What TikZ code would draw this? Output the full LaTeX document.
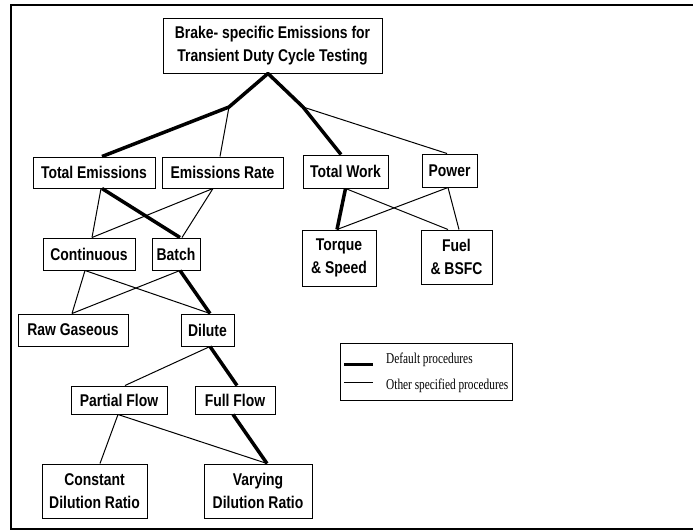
\documentclass[tikz,border=0pt]{standalone}
\usepackage{fontspec}
\newfontfamily\cajafont{Liberation Sans}[FakeStretch=0.82,BoldFeatures={FakeStretch=0.82}]
\newfontfamily\leyfont{Liberation Serif}[FakeStretch=0.755]
\usepackage{tikz}

\begin{document}
\begin{tikzpicture}[x=1pt,y=-1pt,
  caja/.style={draw,line width=1pt,inner sep=0pt,align=center,
    font=\cajafont\bfseries\fontsize{17}{23}\selectfont},
  fino/.style={line width=1pt},
  grueso/.style={line width=3.5pt,line join=round}]
            \useasboundingbox (0,0) rectangle (693,531);
            \draw[line width=1.8pt] (693,5) -- (11,5) -- (11,529) -- (693,529); % marco
            % cajas
            \node[caja,minimum width=219pt,minimum height=55pt] (bse) at (272.5,45.5) {Brake- specific Emissions for\\Transient Duty Cycle Testing};
            \node[caja,minimum width=122pt,minimum height=31pt] (te) at (94,172.5) {Total Emissions};
            \node[caja,minimum width=121pt,minimum height=31pt] (er) at (222.5,172.5) {Emissions Rate};
            \node[caja,minimum width=85pt,minimum height=33pt] (tw) at (345.5,171.5) {Total Work};
            \node[caja,minimum width=55pt,minimum height=33pt] (pw) at (449.5,170.5) {Power};
            \node[caja,minimum width=92pt,minimum height=32pt] (cont) at (89,254) {Continuous};
            \node[caja,minimum width=48pt,minimum height=32pt] (batch) at (176,254) {Batch};
            \node[caja,minimum width=74pt,minimum height=56pt] (ts) at (339,258) {Torque\\\& Speed};
            \node[caja,minimum width=71pt,minimum height=54pt] (fb) at (456.5,257) {Fuel\\\& BSFC};
            \node[caja,minimum width=110pt,minimum height=32pt] (raw) at (73,330) {Raw Gaseous};
            \node[caja,minimum width=53pt,minimum height=32pt] (dil) at (207.5,330) {Dilute};
            \node[caja,minimum width=96pt,minimum height=28pt] (pf) at (119,400) {Partial Flow};
            \node[caja,minimum width=80pt,minimum height=28pt] (ff) at (235,400) {Full Flow};
            \node[caja,minimum width=105pt,minimum height=54pt] (cdr) at (94.5,491) {Constant\\Dilution Ratio};
            \node[caja,minimum width=108pt,minimum height=54pt] (vdr) at (258,491) {Varying\\Dilution Ratio};
            % nivel 1
            \coordinate (j1) at (229,107);
            \coordinate (j2) at (303,107);
            \draw[grueso] ([xshift=8pt]te.north) -- (j1) -- ([xshift=-4.5pt]bse.south) -- (j2) -- ([xshift=-4.5pt]tw.north);
            \draw[fino] (j1) -- ([xshift=-2.5pt]er.north);
            \draw[fino] (j2) -- ([xshift=-2.5pt]pw.north);
            % nivel 2
            \draw[fino] ([xshift=7pt]te.south) -- ([xshift=3pt]cont.north);
            \draw[grueso] ([xshift=8pt]te.south) -- ([xshift=4pt]batch.north);
            \draw[fino] ([xshift=-9.5pt]er.south) -- ([xshift=3pt]cont.north);
            \draw[fino] ([xshift=-9.5pt]er.south) -- ([xshift=6pt]batch.north);
            \draw[grueso] (tw.south) -- ([xshift=-2pt]ts.north);
            \draw[fino] (tw.south) -- ([xshift=-8.5pt]fb.north);
            \draw[fino] ([xshift=-1.5pt]pw.south) -- ([xshift=-2pt]ts.north);
            \draw[fino] ([xshift=-1.5pt]pw.south) -- ([xshift=2.5pt]fb.north);
            % nivel 3
            \draw[fino] ([xshift=-4pt]cont.south) -- ([xshift=-1pt]raw.north);
            \draw[fino] ([xshift=-4pt]cont.south) -- ([xshift=2.5pt]dil.north);
            \draw[fino] ([xshift=4pt]batch.south) -- ([xshift=-1pt]raw.north);
            \draw[grueso] ([xshift=4pt]batch.south) -- ([xshift=2.5pt]dil.north);
            % nivel 4
            \draw[fino] ([xshift=2.5pt]dil.south) -- ([xshift=6pt]pf.north);
            \draw[grueso] ([xshift=2.5pt]dil.south) -- ([xshift=2pt]ff.north);
            % nivel 5
            \draw[fino] ([xshift=-1pt]pf.south) -- ([xshift=5.5pt]cdr.north);
            \draw[fino] ([xshift=-1pt]pf.south) -- ([xshift=9pt]vdr.north);
            \draw[grueso] ([xshift=-2pt]ff.south) -- ([xshift=9pt]vdr.north);
            % leyenda
            \node[draw,line width=1pt,minimum width=172pt,minimum height=57pt] (ley) at (426,371.5) {};
            \node[anchor=base west,inner sep=0pt,font=\leyfont\fontsize{15}{15}\selectfont] (def) at (386,363) {Default procedures};
            \node[anchor=base west,inner sep=0pt,font=\leyfont\fontsize{15}{15}\selectfont] (otr) at (386,389) {Other specified procedures};
            \coordinate (g1) at (344,364); \coordinate (g2) at (373,364);
            \coordinate (f1) at (344,382); \coordinate (f2) at (373,382);
            \draw[line width=3pt] (g1) -- (g2);
            \draw[fino] (f1) -- (f2);
            \end{tikzpicture}
\end{document}
